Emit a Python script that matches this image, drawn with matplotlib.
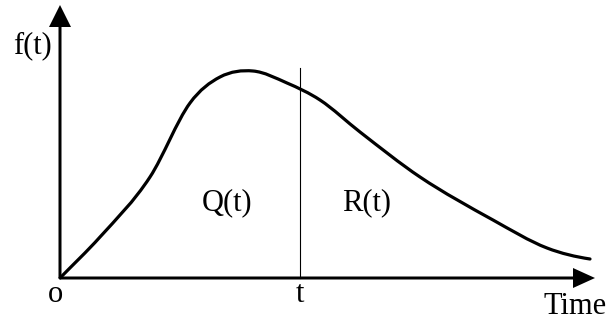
import matplotlib
matplotlib.use("Agg")
import matplotlib.pyplot as plt
from matplotlib.path import Path
from matplotlib.patches import PathPatch

# curve data (time, f(t))
time = [0, 40, 90, 130, 160, 193, 227, 260, 300, 360, 433, 487, 530]
f = [0, 41, 101, 175, 201, 207, 195, 178, 146, 101, 58, 30, 19]
t_mark = 240
t_mark_top = 210
labels = {"f(t)": (-28, 232), "o": (-5, -16), "t": (240, -17),
          "Time": (515, -29), "Q(t)": (167, 75), "R(t)": (307, 75)}

fig = plt.figure(figsize=(6.11, 3.27), dpi=100)
ax = fig.add_axes([0, 0, 1, 1])
ax.set_xlim(-60, 551)
ax.set_ylim(-49, 278)
ax.axis("off")

# smooth Bezier path through the read points, drawn by matplotlib
n = len(time)
sec = [(f[i + 1] - f[i]) / (time[i + 1] - time[i]) for i in range(n - 1)]
slope = [sec[0]] + [(sec[i - 1] + sec[i]) / 2 for i in range(1, n - 1)] + [sec[-1] * 0.6]
verts = [(time[0], f[0])]
codes = [Path.MOVETO]
for i in range(n - 1):
    h = time[i + 1] - time[i]
    verts += [(time[i] + h / 3, f[i] + slope[i] * h / 3),
              (time[i + 1] - h / 3, f[i + 1] - slope[i + 1] * h / 3),
              (time[i + 1], f[i + 1])]
    codes += [Path.CURVE4] * 3
ax.add_patch(PathPatch(Path(verts, codes), facecolor="none", edgecolor="black",
                       lw=2.3, capstyle="round", joinstyle="round"))

ax.plot([t_mark, t_mark], [0, t_mark_top], color="black", lw=0.8)

ax.arrow(0, 0, 535, 0, width=3, head_width=20, head_length=22,
         length_includes_head=True, color="black", lw=0)
ax.arrow(0, 0, 0, 273, width=3, head_width=22, head_length=22,
         length_includes_head=True, color="black", lw=0)

for txt, (x, y) in labels.items():
    ax.text(x, y, txt, fontsize=22, family="Liberation Serif",
            ha="center", va="center")

fig.savefig("out.png", dpi=100)
